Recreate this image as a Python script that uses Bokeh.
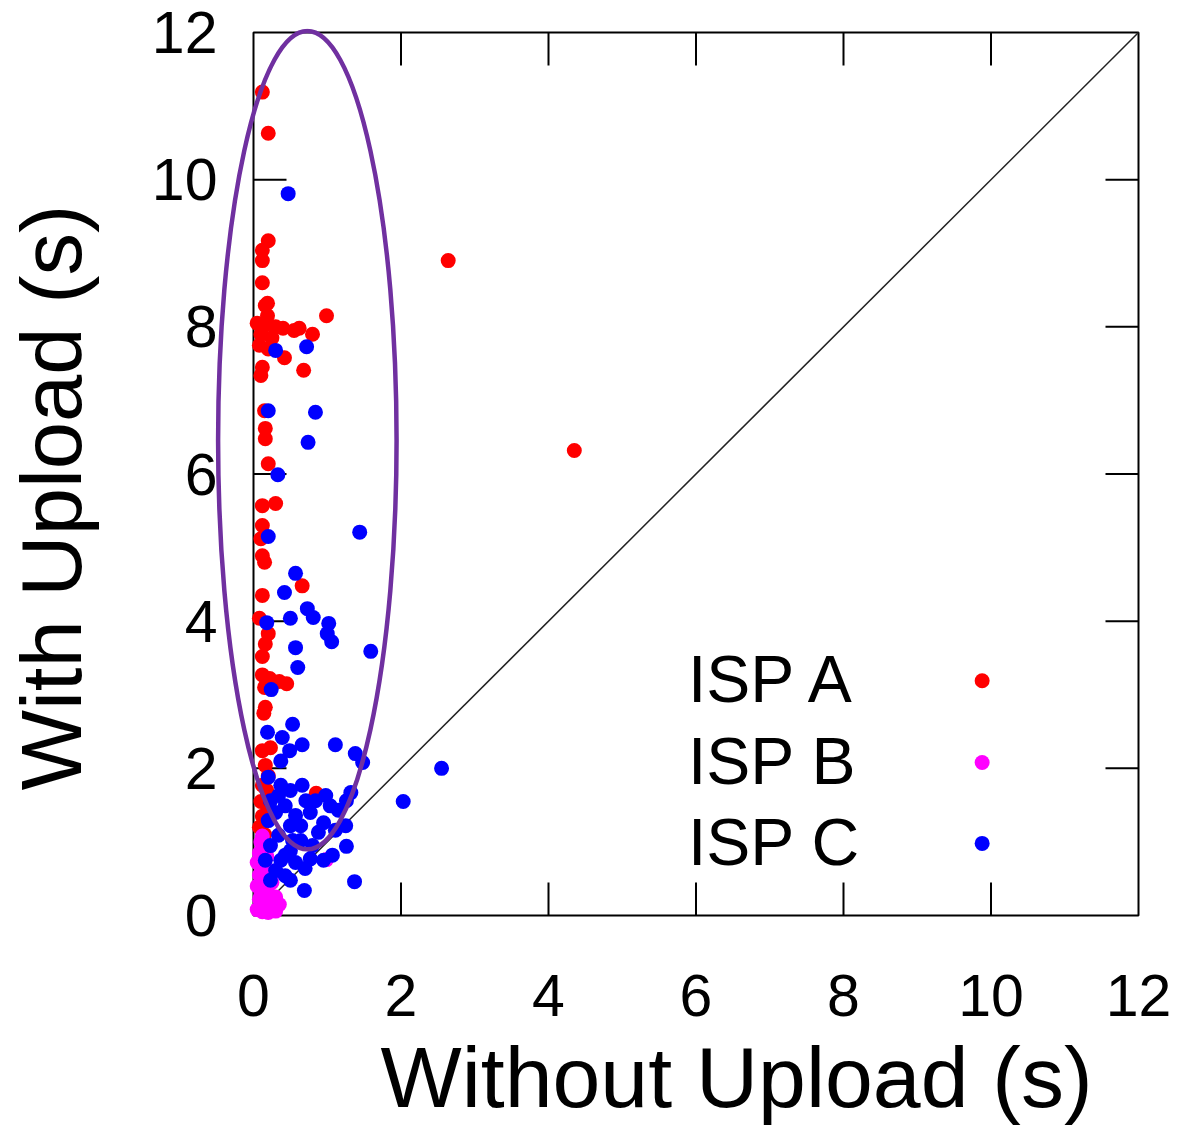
import numpy as np
from bokeh.plotting import figure
from bokeh.models import Range1d, FixedTicker, Label, Title
from bokeh.embed import file_html
from bokeh.resources import INLINE

FONT = "Liberation Sans"

# ---- data (seconds) ----
isp_a_x = [0.12, 0.20, 0.20, 0.12, 0.12, 2.64, 0.12, 0.19, 0.16, 0.19, 0.99, 0.05, 0.15, 0.30, 0.40,
           0.55, 0.62, 0.80, 0.10, 0.25, 0.08, 0.20, 0.42, 0.68, 0.12, 0.10, 0.15, 0.16, 0.16, 0.20,
           0.12, 0.30, 0.12, 0.10, 0.12, 0.15, 0.66, 0.12, 0.08, 0.20, 0.16, 0.12, 0.12, 0.22, 0.35,
           0.45, 0.15, 0.16, 0.14, 0.12, 0.23, 0.16, 0.20, 0.12, 0.18, 0.10, 0.20, 0.12, 0.08, 0.85,
           0.15, 4.35]
isp_a_y = [11.19, 10.63, 9.17, 9.04, 8.90, 8.90, 8.60, 8.32, 8.29, 8.15, 8.15, 8.05, 8.02, 8.00, 7.98,
           7.95, 7.98, 7.90, 7.90, 7.85, 7.75, 7.70, 7.58, 7.41, 7.45, 7.34, 6.86, 6.62, 6.48, 6.14,
           5.57, 5.60, 5.30, 5.12, 4.89, 4.80, 4.48, 4.35, 4.04, 3.83, 3.69, 3.52, 3.27, 3.22, 3.18,
           3.15, 3.10, 2.83, 2.75, 2.24, 2.28, 2.04, 1.90, 1.77, 1.70, 1.55, 1.45, 1.35, 1.20, 1.66,
           1.10, 6.32]

isp_b_x = [0.12, 0.10, 0.14, 0.08, 0.18, 0.05, 0.12, 0.20, 0.08, 0.15, 0.25, 0.05, 0.12, 0.20,
           0.30, 0.08, 0.15, 0.25, 0.35, 0.05, 0.12, 0.20, 0.30, 0.10, 0.22, 0.99]
isp_b_y = [1.08, 1.00, 0.93, 0.85, 0.80, 0.72, 0.68, 0.62, 0.55, 0.50, 0.45, 0.40, 0.36, 0.30,
           0.25, 0.22, 0.18, 0.12, 0.15, 0.08, 0.05, 0.04, 0.06, 0.28, 0.20, 0.76]

isp_c_x = [0.47, 0.30, 0.72, 0.20, 0.84, 0.74, 0.33, 0.20, 1.44, 0.57, 0.42, 0.73, 0.81, 0.50,
           0.18, 1.02, 1.00, 1.06, 0.57, 1.59, 0.60, 0.24, 0.53, 0.19, 0.39, 0.66, 1.11, 0.49,
           1.38, 1.48, 0.37, 0.20, 2.55, 2.03, 1.37,
           0.37, 0.50, 0.66, 0.98, 1.32, 1.26, 1.15, 0.95, 1.25, 0.88, 0.64, 0.50, 0.37, 0.30,
           0.43, 0.70, 0.95, 1.07, 1.26, 0.69, 0.23, 0.30, 0.43, 0.57, 0.71, 0.77, 0.50, 0.34,
           0.64, 0.80, 0.23, 0.43, 0.57, 0.23, 0.84, 1.04, 0.34, 0.53, 0.16, 0.20, 1.11, 0.77, 0.50]
isp_c_y = [9.81, 7.68, 7.73, 6.86, 6.84, 6.43, 5.99, 5.15, 5.21, 4.65, 4.39, 4.17, 4.05, 4.04,
           3.98, 3.97, 3.83, 3.72, 3.64, 3.59, 3.37, 3.07, 2.60, 2.49, 2.42, 2.32, 2.32, 2.24,
           2.20, 2.08, 2.10, 1.88, 2.00, 1.55, 0.46,
           1.77, 1.70, 1.77, 1.63, 1.67, 1.56, 1.43, 1.26, 1.22, 1.13, 1.02, 0.88, 0.75, 0.61,
           0.54, 0.64, 0.75, 0.82, 0.94, 0.34, 1.56, 1.40, 1.49, 1.36, 1.56, 1.40, 1.22, 1.09,
           1.22, 0.95, 0.95, 0.82, 0.72, 0.48, 1.56, 1.49, 1.63, 1.02, 0.75, 1.29, 1.16, 0.77, 0.48]

series_names = ["ISP A", "ISP B", "ISP C"]
series_colors = ["#ff0000", "#ff00ff", "#0000ff"]
ticks = [0, 2, 4, 6, 8, 10, 12]
axis_min, axis_max = 0, 12
diag = [0, 12]

# highlighted region (ellipse) parameters, in data units
ell_cx, ell_cy, ell_w, ell_h = 0.73, 6.46, 2.42, 11.12

# legend placement (data units)
leg_text_x = 5.89
leg_text_y = [3.21, 2.10, 1.00]
leg_mark_x = 9.88
leg_mark_y = [3.19, 2.08, 0.98]

# ---- figure: frame larger than the 0..12 box so the ellipse can poke out ----
PX_X = 73.75   # px per unit (x)
PX_Y = 73.583  # px per unit (y)
FR_L, FR_R, FR_T, FR_B = 209, 1141, 28, 966
x_start, x_end = (FR_L - 253) / PX_X, (FR_R - 253) / PX_X
y_start, y_end = (915 - FR_B) / PX_Y, (915 - FR_T) / PX_Y

p = figure(width=1184, height=1134, x_range=Range1d(x_start, x_end), y_range=Range1d(y_start, y_end),
           output_backend="svg", toolbar_location=None,
           min_border_left=FR_L, min_border_right=1184 - FR_R, min_border_top=FR_T,
           min_border_bottom=1134 - FR_B)
p.grid.visible = False
p.outline_line_color = None
p.background_fill_color = "white"
p.border_fill_color = "white"

TICK_LEN = 33

def style_axis(ax):
    ax.ticker = FixedTicker(ticks=ticks)
    ax.major_tick_in = 0
    ax.major_tick_out = 0
    ax.major_tick_line_color = None
    ax.minor_tick_line_color = None
    ax.axis_line_color = None
    ax.major_label_text_font = FONT
    ax.major_label_text_font_size = "59px"
    ax.major_label_text_color = "black"

xa = p.xaxis[0]
ya = p.yaxis[0]
style_axis(xa)
style_axis(ya)
xa.major_label_standoff = 8
ya.major_label_standoff = -8
ya.axis_label = "With Upload (s)"
ya.axis_label_text_font = FONT
ya.axis_label_text_font_size = "85px"
ya.axis_label_text_font_style = "normal"
ya.axis_label_text_color = "black"
ya.axis_label_standoff = 50

p.add_layout(Title(text="Without Upload (s)", align="left", offset=171, text_font=FONT,
                   text_font_size="86px", text_font_style="normal", text_color="black",
                   standoff=16), "below")

# plot box
p.quad(left=[axis_min], right=[axis_max], bottom=[axis_min], top=[axis_max],
       fill_color=None, line_color="black", line_width=2)
# inward ticks on all four edges
inner = ticks[1:-1]
n = len(inner)
tx = TICK_LEN / PX_X
ty = TICK_LEN / PX_Y
p.segment(x0=inner, y0=[axis_max] * n, x1=inner, y1=[axis_max - ty] * n, line_color="black", line_width=2)
p.segment(x0=inner, y0=[axis_min] * n, x1=inner, y1=[axis_min + ty] * n, line_color="black", line_width=2)
p.segment(x0=[axis_max] * n, y0=inner, x1=[axis_max - tx] * n, y1=inner, line_color="black", line_width=2)
p.segment(x0=[axis_min] * n, y0=inner, x1=[axis_min + tx] * n, y1=inner, line_color="black", line_width=2)

# diagonal y = x
p.line(diag, diag, line_color="#222222", line_width=1.5)

xs = [isp_a_x, isp_b_x, isp_c_x]
ys = [isp_a_y, isp_b_y, isp_c_y]
for sx, sy, col in zip(xs, ys, series_colors):
    p.scatter(sx, sy, size=15, fill_color=col, line_color=None)

# ellipse highlight
p.ellipse(x=[ell_cx], y=[ell_cy], width=[ell_w], height=[ell_h],
          fill_color=None, line_color="#7030a0", line_width=4.5)

# legend (labels left, markers right)
for name, tyy in zip(series_names, leg_text_y):
    p.add_layout(Label(x=leg_text_x, y=tyy, text=name, text_font=FONT, text_font_size="66px",
                       text_baseline="middle", text_align="left", text_color="black"))
p.scatter([leg_mark_x] * 3, leg_mark_y, size=15, fill_color=series_colors, line_color=None)

open("out.html", "w").write(file_html(p, INLINE))
